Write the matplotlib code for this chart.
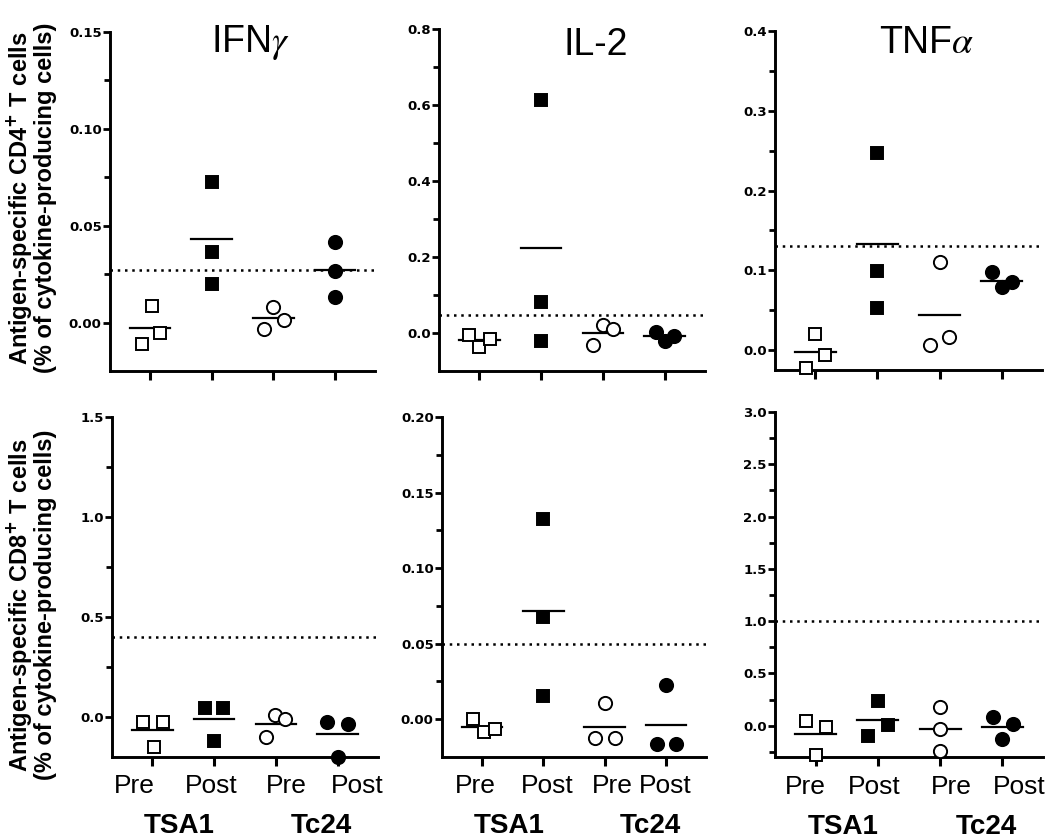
import numpy as np
import matplotlib
matplotlib.use('Agg')
import matplotlib.pyplot as plt
from matplotlib.ticker import FixedLocator, FormatStrFormatter
import matplotlib.transforms as mtransforms

# ---- data ----
groups = ['Pre', 'Post', 'Pre', 'Post']
antigens = ['TSA1', 'Tc24']
titles = [r'IFN$\gamma$', 'IL-2', r'TNF$\alpha$']

cd4_ifng = [[0.0088, -0.0113, -0.0052], [0.0727, 0.0366, 0.0201],
            [0.0082, 0.0015, -0.0031], [0.0418, 0.0268, 0.0134]]
cd4_il2 = [[-0.005, -0.037, -0.016], [0.613, 0.0815, -0.021],
           [0.021, 0.0105, -0.032], [0.0026, -0.021, -0.008]]
cd4_tnfa = [[0.02, -0.006, -0.0225], [0.2475, 0.099, 0.0525],
            [0.11, 0.0065, 0.016], [0.0975, 0.0785, 0.085]]
cd8_ifng = [[-0.025, -0.025, -0.15], [0.045, 0.045, -0.12],
            [0.01, -0.01, -0.1], [-0.025, -0.035, -0.2]]
cd8_il2 = [[0.0, -0.0086, -0.0066], [0.1325, 0.0675, 0.0152],
           [0.0106, -0.0126, -0.0126], [0.0225, -0.0166, -0.0166]]
cd8_tnfa = [[0.04, -0.01, -0.28], [0.24, 0.01, -0.095],
            [0.18, -0.03, -0.24], [0.08, 0.02, -0.125]]

cd4_cutoff = [0.027, 0.047, 0.13]
cd8_cutoff = [0.4, 0.05, 1.0]

# ---- layout / style ----
# horizontal scatter of the points within a column
jitter = [
  [[0.03, -0.135, 0.16], [0, 0, 0], [0, 0.17, -0.15], [0, 0, 0]],
  [[-0.17, -0.01, 0.17], [0, 0, 0], [0, 0.16, -0.16], [-0.135, 0, 0.15]],
  [[0, 0.16, -0.15], [0, 0, 0], [0, -0.15, 0.16], [-0.15, 0, 0.16]],
  [[-0.15, 0.17, 0.03], [-0.15, 0.15, 0], [-0.02, 0.15, -0.16], [-0.18, 0.17, 0]],
  [[-0.145, 0.04, 0.21], [0, 0, 0], [0, -0.15, 0.16], [0, -0.15, 0.16]],
  [[-0.15, 0.17, 0], [0, 0.17, -0.16], [0, 0, 0], [-0.15, 0.17, 0]],
]
# ylim, major step, minor step, label format
yaxes = [
  ((-0.025, 0.15), 0.05, 0.025, '%.2f'),
  ((-0.1, 0.8), 0.2, 0.1, '%.1f'),
  ((-0.025, 0.4), 0.1, 0.05, '%.1f'),
  ((-0.2, 1.5), 0.5, 0.25, '%.1f'),
  ((-0.025, 0.2), 0.05, 0.025, '%.2f'),
  ((-0.3, 3.0), 0.5, 0.25, '%.1f'),
]
# axes boxes in pixels: x0, y0(top), x1, y1(bottom)
boxes = [(110, 32, 375, 371), (439, 29, 705, 371), (775, 31, 1042, 370),
         (112, 417, 378, 757), (442, 417, 706, 757), (775, 412, 1043, 757)]
title_pos = [(0.53, 0.941), (0.59, 0.924), (0.57, 0.935)]
label_shift = [[-0.29, -0.05, 0.16, 0.31], [-0.11, 0.06, 0.13, -0.02], [-0.16, -0.06, 0.18, 0.27]]

markers = ['s', 's', 'o', 'o']
faces = ['white', 'black', 'white', 'black']
sizes = [8.5, 8.5, 9.5, 9.5]

W, H = 1050, 839
fig = plt.figure(figsize=(W/100, H/100), dpi=100)

panels = [cd4_ifng, cd4_il2, cd4_tnfa, cd8_ifng, cd8_il2, cd8_tnfa]
cutoffs = cd4_cutoff + cd8_cutoff

for i, data in enumerate(panels):
  x0, y0, x1, y1 = boxes[i]
  ax = fig.add_axes([x0/W, 1 - y1/H, (x1 - x0)/W, (y1 - y0)/H])
  (ylo, yhi), major, minor, fmt = yaxes[i]

  ax.axhline(cutoffs[i], color='black', lw=1.8, ls=(0, (1, 1.9)), zorder=1)
  for g in range(4):
    vals = np.array(data[g])
    xs = g + 1 + np.array(jitter[i][g])
    ax.plot(xs, vals, ls='none', marker=markers[g], ms=sizes[g], mfc=faces[g],
            mec='black', mew=1.4, clip_on=False, zorder=3)
    ax.plot([g + 1 - 0.33, g + 1 + 0.33], [vals.mean()]*2, color='black', lw=1.6, zorder=2)

  ax.set_xlim(0.35, 4.65)
  ax.set_ylim(ylo, yhi)
  majors = np.arange(0, yhi + major/2, major)
  minors = [k*minor for k in range(int(np.ceil(ylo/minor)), int(yhi/minor) + 1)]
  minors = [m for m in minors if m > ylo + 1e-9 and np.min(np.abs(majors - m)) > 1e-9]
  ax.yaxis.set_major_locator(FixedLocator(majors))
  ax.yaxis.set_minor_locator(FixedLocator(minors))
  ax.yaxis.set_major_formatter(FormatStrFormatter(fmt))
  ax.set_xticks([1, 2, 3, 4])
  ax.set_xticklabels([])

  for s in ['top', 'right']:
    ax.spines[s].set_visible(False)
  for s in ['left', 'bottom']:
    ax.spines[s].set_linewidth(2.1)
  ax.tick_params(axis='y', which='major', length=5, width=2, pad=1)
  ax.tick_params(axis='y', which='minor', length=4.5, width=2)
  ax.tick_params(axis='x', length=6.5, width=2.2)
  for lbl in ax.get_yticklabels():
    lbl.set_fontfamily('DejaVu Sans')
    lbl.set_fontweight('bold')
    lbl.set_fontsize(9.5)

  trans = mtransforms.blended_transform_factory(ax.transData, ax.transAxes)
  if i < 3:
    tx, ty = title_pos[i]
    ax.text(tx, ty, titles[i], transform=ax.transAxes, ha='center', va='baseline',
            fontsize=27, family='Liberation Sans', math_fontfamily='stix')
  else:
    for g in range(4):
      ax.text(g + 1 + label_shift[i - 3][g], -0.106, groups[g], transform=trans,
              ha='center', va='baseline', fontsize=19, family='Liberation Sans')
    for k, name in enumerate(antigens):
      ax.text([1.44, 3.74][k], -0.2235, name, transform=trans, ha='center',
              va='baseline', fontsize=20, fontweight='bold', family='Liberation Sans')

# row labels
for yc, cd in [(198, '4'), (605, '8')]:
  fig.text(19/W, 1 - yc/H, r'Antigen-specific CD' + cd + r'$^{\mathbf{+}}$ T cells',
           rotation=90, ha='center', va='center', fontsize=17,
           fontweight='bold', family='Liberation Sans', math_fontfamily='dejavusans')
  fig.text(46/W, 1 - yc/H, '(% of cytokine-producing cells)',
           rotation=90, ha='center', va='center', fontsize=17,
           fontweight='bold', family='Liberation Sans')

plt.savefig('out.png', dpi=100)
